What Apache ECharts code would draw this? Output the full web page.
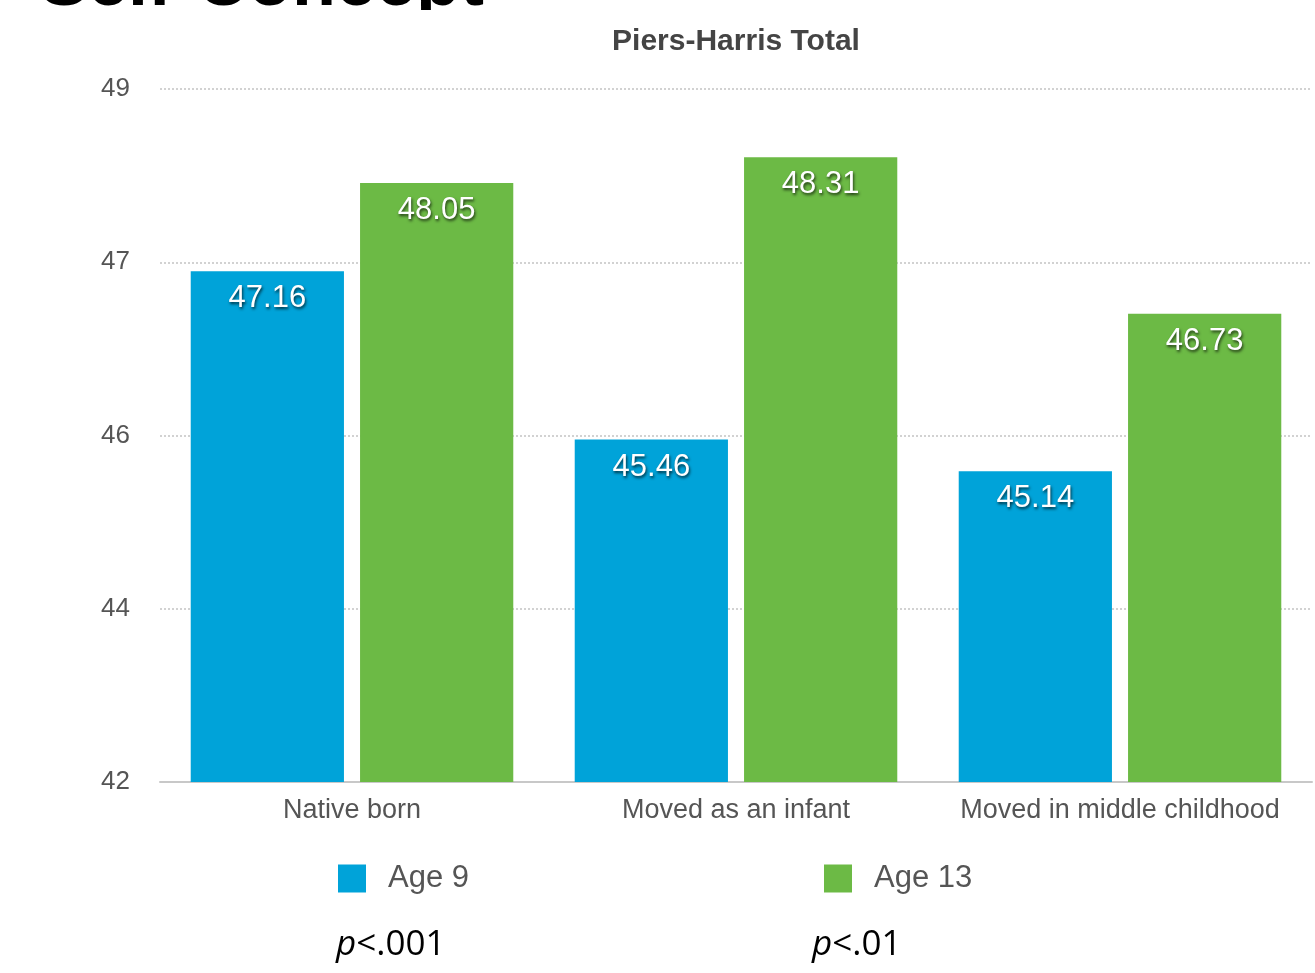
<!DOCTYPE html>
<html>
<head>
<meta charset="utf-8">
<style>
  html, body { margin: 0; padding: 0; background: #ffffff; }
  #chart { width: 1315px; height: 973px; }
</style>
<script src="https://cdn.jsdelivr.net/npm/echarts@6/dist/echarts.min.js"></script>
</head>
<body>
<div id="chart"></div>
<script>
// Piers-Harris self-concept totals by group and age
const groups = ['Native born', 'Moved as an infant', 'Moved in middle childhood'];
const age9 = [47.16, 45.46, 45.14];
const age13 = [48.05, 48.31, 46.73];
const seriesNames = ['Age 9', 'Age 13'];
const pValues = ['.001', '.01'];

const BLUE = '#00a3d9';
const GREEN = '#6cba45';
const FONT = '"Liberation Sans", Arial, Helvetica, sans-serif';

const chart = echarts.init(document.getElementById('chart'));

const valueLabel = {
  show: true,
  position: 'insideTop',
  distance: 12,
  color: '#ffffff',
  fontFamily: FONT,
  fontSize: 31,
  textShadowColor: 'rgba(0,0,0,0.7)',
  textShadowBlur: 3,
  textShadowOffsetX: 1,
  textShadowOffsetY: 2,
  formatter: p => p.value.toFixed(2)
};

const legendText = { color: '#555555', fontFamily: FONT, fontSize: 31, padding: [0, 0, 0, 17] };

const pRich = {
  i: { fontFamily: '"Open Sans", sans-serif', fontStyle: 'italic', fontSize: 35, fill: '#000' },
  n: { fontFamily: '"Open Sans", sans-serif', fontSize: 35, fill: '#000' }
};

chart.setOption({
  backgroundColor: '#ffffff',
  animation: false,
  title: {
    text: 'Piers-Harris Total',
    left: 731,
    textAlign: 'center',
    top: 22,
    textStyle: { color: '#444444', fontFamily: FONT, fontSize: 30, fontWeight: 'bold' }
  },
  grid: { left: 160, right: 3, top: 89, bottom: 191 },
  legend: [
    {
      data: [seriesNames[0]], left: 338, top: 863, padding: 0,
      itemWidth: 28, itemHeight: 28, itemGap: 0, icon: 'rect',
      textStyle: legendText
    },
    {
      data: [seriesNames[1]], left: 824, top: 863, padding: 0,
      itemWidth: 28, itemHeight: 28, itemGap: 0, icon: 'rect',
      textStyle: legendText
    }
  ],
  xAxis: {
    type: 'category',
    data: groups,
    axisLine: { lineStyle: { color: '#c8c8c8', width: 2 } },
    axisTick: { show: false },
    axisLabel: { color: '#555555', fontFamily: FONT, fontSize: 27, margin: 15, interval: 0 }
  },
  yAxis: {
    type: 'value',
    min: 42,
    max: 49,
    interval: 1.75,
    axisLine: { show: false },
    axisTick: { show: false },
    axisLabel: {
      color: '#555555', fontFamily: FONT, fontSize: 26, margin: 30,
      padding: [4, 0, 0, 0],
      formatter: v => String(Math.round(v))
    },
    splitLine: { lineStyle: { color: '#c4c4c4', type: [2, 2], width: 1.5 } }
  },
  series: [
    {
      name: seriesNames[0], type: 'bar', data: age9,
      itemStyle: { color: BLUE },
      barGap: '10.5%', barCategoryGap: '16%',
      label: valueLabel
    },
    {
      name: seriesNames[1], type: 'bar', data: age13,
      itemStyle: { color: GREEN },
      barGap: '10.5%', barCategoryGap: '16%',
      label: valueLabel
    }
  ],
  graphic: [
    // slide heading running off the top edge; only its lowest strip shows
    {
      type: 'text', left: 40, top: -51, silent: true, z: 1,
      style: { text: 'Self-Concept', fill: '#000000', font: 'bold 72px ' + FONT }
    },
    {
      type: 'rect', left: 0, top: 10, silent: true, z: 2,
      shape: { width: 560, height: 14 },
      style: { fill: '#ffffff' }
    },
    {
      type: 'text', left: 336, top: 928, silent: true,
      style: { text: '{i|p}{n|<' + pValues[0] + '}', rich: pRich }
    },
    {
      type: 'text', left: 812, top: 928, silent: true,
      style: { text: '{i|p}{n|<' + pValues[1] + '}', rich: pRich }
    }
  ]
});
</script>
</body>
</html>
